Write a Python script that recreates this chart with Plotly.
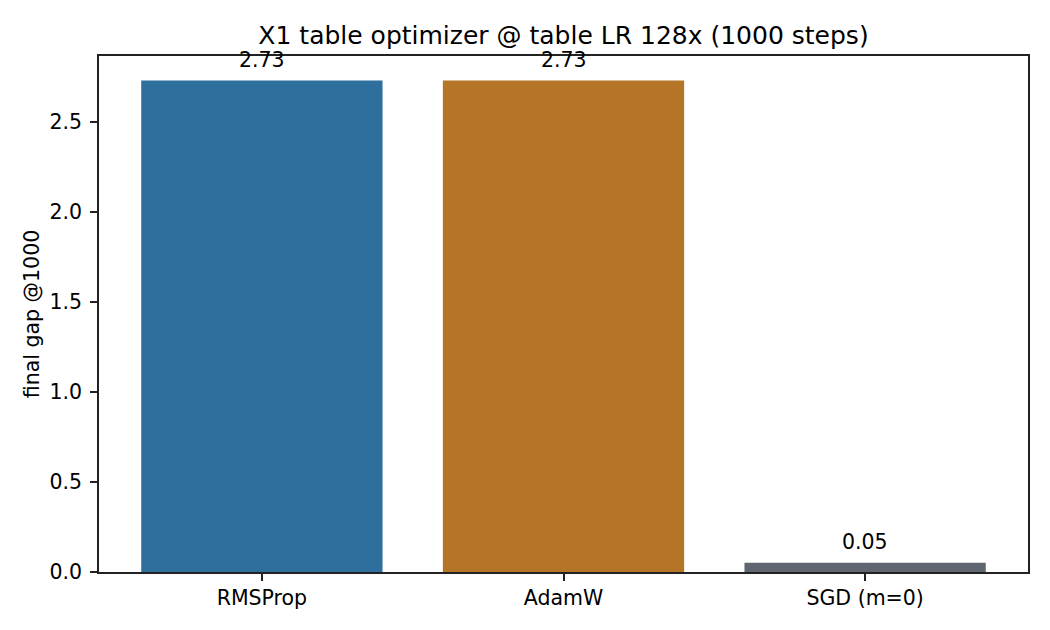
import plotly.graph_objects as go

categories = ["RMSProp", "AdamW", "SGD (m=0)"]
values = [2.73, 2.73, 0.052]
colors = ["#2e6f9e", "#b47626", "#5f6670"]
yticks = [0.0, 0.5, 1.0, 1.5, 2.0, 2.5]
ytick_labels = ["0.0", "0.5", "1.0", "1.5", "2.0", "2.5"]

FONT = "DejaVu Sans"

fig = go.Figure()
fig.add_trace(go.Bar(
    x=categories, y=values, marker=dict(color=colors, line=dict(width=0)),
    width=0.8, showlegend=False,
))

for c, v in zip(categories, values):
    fig.add_annotation(x=c, y=v, text=f"{v:.2f}", showarrow=False,
                       yanchor="bottom", yshift=7,
                       font=dict(family=FONT, size=20.5, color="black"))

ymax = max(values) * 1.05
fig.update_layout(
    width=1042, height=622,
    margin=dict(l=91, r=22, t=48, b=58),
    paper_bgcolor="white", plot_bgcolor="white",
    font=dict(family=FONT, size=20.5, color="black"),
    title=dict(text="X1 table optimizer @ table LR 128x (1000 steps)",
               x=0.5, xref="paper", xanchor="center",
               y=1, yref="paper", yanchor="bottom", pad=dict(b=12),
               font=dict(family=FONT, size=25, color="black")),
    bargap=0.2,
)
fig.update_xaxes(
    range=[-0.54, 2.54], showline=True, mirror=True, linecolor="#222222", linewidth=1.6,
    ticks="outside", ticklen=7, tickwidth=1.6, tickcolor="#222222",
    showgrid=False, zeroline=False, ticklabelstandoff=0,
    tickfont=dict(family=FONT, size=20.5, color="black"),
)
fig.update_yaxes(
    range=[0, ymax], showline=True, mirror=True, linecolor="#222222", linewidth=1.6,
    ticks="outside", ticklen=7, tickwidth=1.6, tickcolor="#222222",
    tickvals=yticks, ticktext=ytick_labels,
    showgrid=False, zeroline=False, ticklabelstandoff=4,
    tickfont=dict(family=FONT, size=20.5, color="black"),
    title=dict(text="final gap @1000", standoff=4,
               font=dict(family=FONT, size=20.5, color="black")),
)

fig.write_html("out.html")
